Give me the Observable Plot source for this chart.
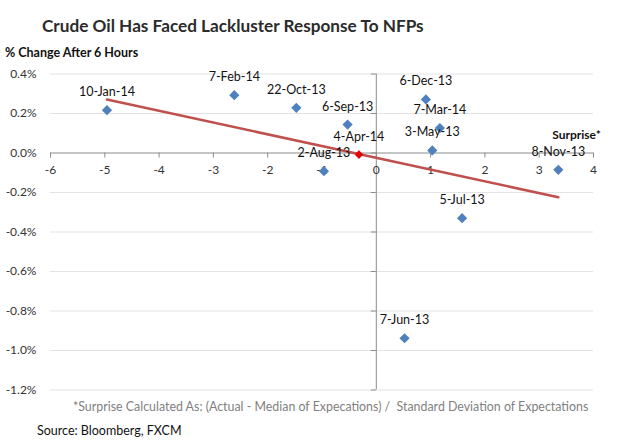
<!DOCTYPE html>
<html>
<head>
<meta charset="utf-8">
<script src="https://cdn.jsdelivr.net/npm/d3@7"></script>
<script src="https://cdn.jsdelivr.net/npm/@observablehq/plot@0.6"></script>
<style>
  html, body { margin: 0; padding: 0; background: #fff; }
  body { width: 624px; height: 444px; overflow: hidden; font-family: Lato, "Open Sans", sans-serif; }
  #title { height: 42px; box-sizing: border-box; padding: 15px 0 0 42px; font-weight: bold; font-size: 17.2px; line-height: 22px; color: #2b2b2b; white-space: nowrap; }
  #ylab { height: 18px; box-sizing: border-box; padding: 3px 0 0 5px; font-weight: bold; font-size: 12.5px; line-height: 15px; color: #111; white-space: nowrap; }
  #chart { height: 340px; }
  #chart svg { display: block; }
  #note { height: 14px; padding-left: 73px; font-size: 12.4px; line-height: 14px; color: #7f7f7f; white-space: nowrap; }
  #source { height: 30px; box-sizing: border-box; padding: 10px 0 0 37px; font-size: 12.5px; line-height: 14px; color: #111; white-space: nowrap; }
</style>
</head>
<body>
<div id="title">Crude Oil Has Faced Lackluster Response To NFPs</div>
<div id="ylab">% Change After 6 Hours</div>
<div id="chart"></div>
<div id="note">*Surprise Calculated As: (Actual - Median of Expecations) / &nbsp;Standard Deviation of Expectations</div>
<div id="source">Source: Bloomberg, FXCM</div>
<script>
// NFP release dates
const dates = ["10-Jan-14","7-Feb-14","22-Oct-13","6-Sep-13","2-Aug-13","4-Apr-14","6-Dec-13","7-Mar-14","3-May-13","8-Nov-13","5-Jul-13","7-Jun-13"];
// Surprise (standardised) on x
const surprise = [-4.96,-2.615,-1.473,-0.529,-0.965,-0.319,0.913,1.171,1.031,3.352,1.58,0.52];
// % change of crude oil after 6 hours (in percent)
const change = [0.217,0.293,0.229,0.144,-0.092,-0.008,0.271,0.126,0.013,-0.085,-0.33,-0.938];
const highlighted = "4-Apr-14";
const xTicks = [-6,-5,-4,-3,-2,-1,0,1,2,3,4];
const yTicks = [0.4,0.2,0,-0.2,-0.4,-0.6,-0.8,-1.0,-1.2];
const xTitle = "Surprise*";

const table = dates.map((d, i) => ({date: d, x: surprise[i], y: change[i], hi: d === highlighted}));
const axisColor = "#8c8c8c";

const chart = Plot.plot({
  width: 624,
  height: 340,
  marginLeft: 50,
  marginRight: 31,
  marginTop: 13.5,
  marginBottom: 10.5,
  x: {domain: [d3.min(xTicks), d3.max(xTicks)], axis: null},
  y: {domain: [d3.min(yTicks), d3.max(yTicks)], axis: null},
  style: {fontFamily: "Lato, 'Open Sans', sans-serif", fontSize: "12px", background: "white", overflow: "visible"},
  marks: [
    Plot.ruleY(yTicks.filter(d => d !== 0), {y: d => d, stroke: "#e3e3e3", strokeWidth: 1}),
    Plot.ruleY([0], {stroke: axisColor}),
    Plot.ruleX([0], {stroke: axisColor}),
    Plot.ruleX(xTicks, {x: d => d, y1: 0, y2: 0, insetBottom: -5, stroke: axisColor}),
    Plot.ruleY(yTicks, {y: d => d, x1: 0, x2: 0, insetLeft: -5, stroke: axisColor}),
    Plot.text(xTicks, {x: d => d, y: 0, dy: 17.5, text: d => String(d), fill: "#333", fontSize: 12}),
    Plot.text(yTicks, {x: d3.min(xTicks), y: d => d, dx: -14, textAnchor: "end", text: d => d.toFixed(1) + "%", fill: "#333", fontSize: 12}),
    Plot.linearRegressionY(table, {x: "x", y: "y", ci: 0, stroke: "#c0504d", strokeWidth: 2.5}),
    Plot.dot(table.filter(d => !d.hi), {x: "x", y: "y", symbol: "diamond2", r: 4.6, fill: "#4f81bd", stroke: "none"}),
    Plot.dot(table.filter(d => d.hi), {x: "x", y: "y", symbol: "diamond2", r: 3.9, fill: "#e8000b", stroke: "none"}),
    Plot.text(table, {x: "x", y: "y", dy: -18, text: "date", fill: "#111", fontSize: 12.5}),
    Plot.text([xTitle], {x: d3.max(xTicks), y: 0, dx: -17, dy: -18, text: d => d, fontWeight: "bold", fill: "#111", fontSize: 12})
  ]
});
document.getElementById("chart").appendChild(chart);
</script>
</body>
</html>
